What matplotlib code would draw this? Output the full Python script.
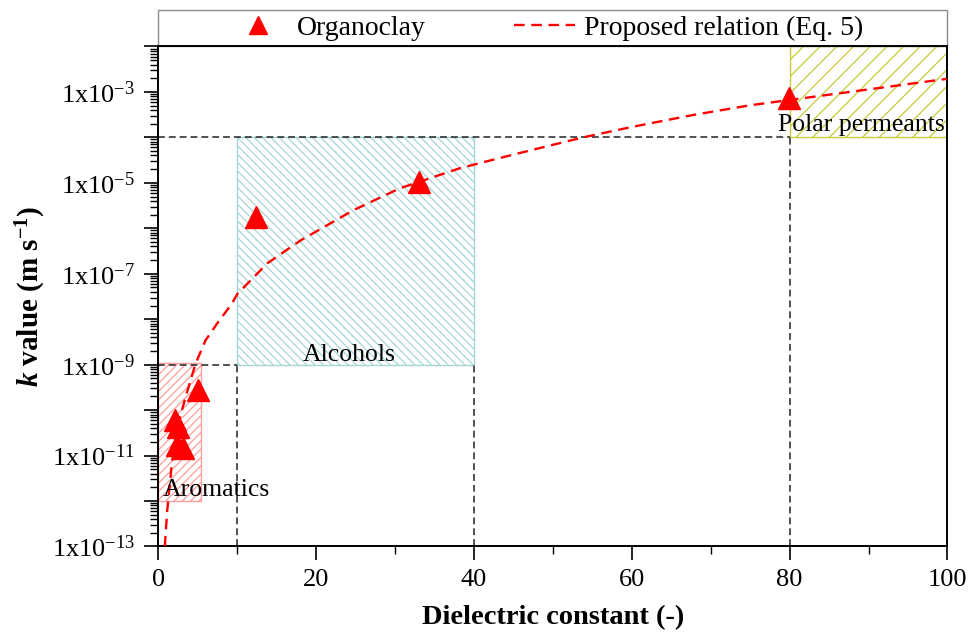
import numpy as np
import matplotlib
matplotlib.use('Agg')
import matplotlib.pyplot as plt
from matplotlib.patches import Rectangle
from matplotlib.ticker import LogLocator, FuncFormatter, MultipleLocator, NullFormatter

plt.rcParams['font.family'] = ['Liberation Serif', 'DejaVu Serif']
plt.rcParams['mathtext.fontset'] = 'custom'
plt.rcParams['mathtext.rm'] = 'Liberation Serif'
plt.rcParams['mathtext.it'] = 'Liberation Serif:italic:bold'
plt.rcParams['mathtext.bf'] = 'Liberation Serif:bold'
plt.rcParams['hatch.linewidth'] = 0.9

# Organoclay measurements (dielectric constant, k in m/s)
clay_eps = [2.1, 2.5, 2.3, 3.1, 5.05, 12.3, 33.0, 79.9]
clay_k = [6.0e-11, 4.3e-11, 1.7e-11, 1.5e-11, 2.75e-10, 1.8e-6, 1.05e-5, 7.5e-4]

# Proposed relation (Eq. 5)
rel_eps = [0.8, 1.1, 1.73, 2.37, 3.42, 4.7, 5.95, 7.4, 9.3, 10.0, 13.8, 18.0,
           24.7, 30.6, 38.2, 45.0, 53.8, 60.0, 67.7, 75.0, 87.6, 100.0]
rel_k = [1.0e-13, 5.9e-13, 7.6e-12, 4.1e-11, 1.9e-10, 1.05e-9, 3.4e-9, 7.9e-9,
         2.2e-8, 3.6e-8, 1.7e-7, 5.4e-7, 2.5e-6, 7.6e-6, 2.1e-5, 4.2e-5,
         1.0e-4, 1.7e-4, 3.1e-4, 5.1e-4, 1.0e-3, 1.95e-3]

# Permeant groups: name, x range, k range
groups = ['Aromatics', 'Alcohols', 'Polar permeants']
group_x = [(0, 5.4), (10, 40), (80, 100)]
group_k = [(1.0e-12, 1.1e-9), (1.0e-9, 1.0e-4), (1.0e-4, 1.0e-2)]
group_col = ['#ff9c9c', '#a6d6d6', '#c9c93a']
group_hatch = ['////', '\\\\\\\\', '//']
group_text_xy = [(0.5, 1.3e-12), (24.2, 1.2e-9), (89.1, 1.35e-4)]
group_text_ha = ['left', 'center', 'center']

# dashed guide lines: (x0, x1, k0, k1)
guides = [(0, 80, 1e-4, 1e-4), (80, 80, 1e-13, 1e-4), (0, 10, 1e-9, 1e-9),
          (10, 10, 1e-13, 1e-9), (40, 40, 1e-13, 1e-9)]

fig = plt.figure(figsize=(9.8, 6.44), dpi=100)
ax = fig.add_axes([0.1617, 0.1514, 0.8051, 0.7764])

for (x0, x1), (k0, k1), c, h in zip(group_x, group_k, group_col, group_hatch):
    ax.fill_between([x0, x1], k0, k1, facecolor='none', edgecolor=c,
                    hatch=h, linewidth=1.0, zorder=1)

for x0, x1, k0, k1 in guides:
    ax.plot([x0, x1], [k0, k1], color='#222222', lw=1.1, dashes=(4.5, 2.6), zorder=2)

rel_line, = ax.plot(rel_eps, rel_k, color='#ff0000', lw=1.7, dashes=(4.5, 2.8),
                    zorder=3, label='Proposed relation (Eq. 5)')
clay_pts, = ax.plot(clay_eps, clay_k, '^', color='#ff0000', ms=15.5, mec='#ff0000',
                    ls='none', zorder=4, label='Organoclay')

for name, (tx, ty), ha in zip(groups, group_text_xy, group_text_ha):
    ax.text(tx, ty, name, ha=ha, va='baseline', fontsize=18.5, zorder=5)

ax.set_xlim(0, 100)
ax.set_yscale('log')
ax.set_ylim(1e-13, 1e-2)

ax.xaxis.set_major_locator(MultipleLocator(20))
ax.xaxis.set_minor_locator(MultipleLocator(10))
ax.yaxis.set_major_locator(LogLocator(base=10, numticks=30))
ax.yaxis.set_minor_locator(LogLocator(base=10, subs=np.arange(2, 10), numticks=30))
ax.yaxis.set_minor_formatter(NullFormatter())


def ylab(v, pos):
    e = int(round(np.log10(v)))
    if e % 2 == 0:
        return ''
    return r'1x10$^{%d}$' % e


ax.yaxis.set_major_formatter(FuncFormatter(ylab))
ax.tick_params(which='major', direction='out', length=10, width=1.2, labelsize=19, pad=6)
ax.tick_params(which='minor', direction='out', length=6, width=1.0)
ax.tick_params(axis='y', which='major', pad=7)
for s in ax.spines.values():
    s.set_linewidth(1.4)

ax.set_xlabel('Dielectric constant (-)', fontsize=20.5, fontweight='bold', labelpad=10)
ax.set_ylabel(r'$k$ value (m s$^{\mathbf{-1}}$)', fontsize=21, fontweight='bold', labelpad=3)

# legend strip above the plot
ax.add_patch(Rectangle((0, 1), 1, 0.073, transform=ax.transAxes, fill=False,
                       edgecolor='#8c8c8c', lw=1.0, clip_on=False))
ax.legend([clay_pts, rel_line], ['Organoclay', 'Proposed relation (Eq. 5)'],
          loc='center left', bbox_to_anchor=(0.087, 1.037), ncol=2, frameon=False,
          fontsize=20, borderpad=0, borderaxespad=0, handlelength=2.2,
          handletextpad=0.3, columnspacing=3.2, markerscale=0.8)

fig.savefig('out.png', dpi=100)
